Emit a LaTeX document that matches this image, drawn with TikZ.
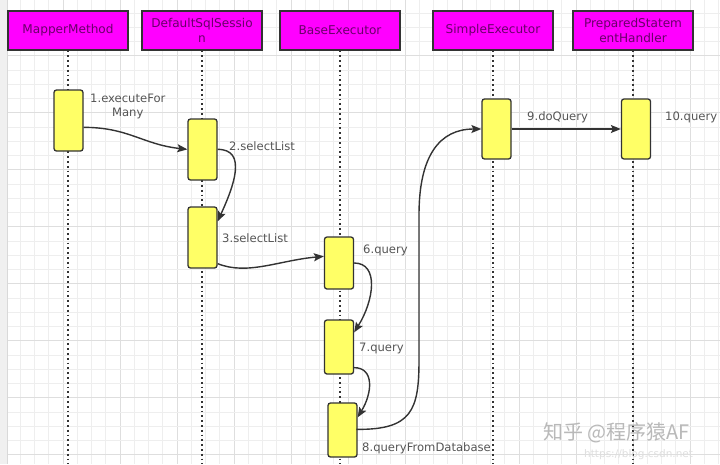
\documentclass[tikz,border=0pt]{standalone}
\usepackage{fontspec}
\setmainfont{DejaVu Sans}
\newfontfamily\cjkfont{Noto Sans CJK SC}
\usetikzlibrary{arrows.meta,calc}
\definecolor{headfill}{RGB}{255,0,255}
\definecolor{headtext}{RGB}{105,0,105}
\definecolor{actfill}{RGB}{255,255,102}
\definecolor{linegray}{RGB}{51,51,51}
\definecolor{labelgray}{RGB}{85,85,85}
\definecolor{minorgrid}{RGB}{238,238,238}
\definecolor{majorgrid}{RGB}{222,222,222}

\begin{document}
\begin{tikzpicture}[x=1pt,y=-1pt,
  head/.style={draw=linegray, fill=headfill, line width=1.3pt, minimum width=120pt,
    minimum height=39pt, inner sep=1pt, align=center, text=headtext,
    font=\fontsize{12.1}{15}\selectfont},
  act/.style={draw=linegray, fill=actfill, line width=1.3pt, rounded corners=2.5pt,
    minimum width=29pt, inner sep=0pt},
  life/.style={linegray, line width=2pt, dash pattern=on 1.8pt off 3pt},
  msg/.style={linegray, line width=1.4pt, -{Stealth[length=10pt,width=8pt,inset=2pt]}},
  lbl/.style={anchor=west, inner sep=0pt, text=labelgray, align=center,
    font=\fontsize{11.6}{14}\selectfont}]
  \clip (0,0) rectangle (720,464);
  \fill[white] (0,0) rectangle (720,464);
  % grid
  \foreach \k in {0,...,50} {
    \pgfmathtruncatemacro\m{mod(\k,4)}
    \ifnum\m=0 \draw[majorgrid, line width=1pt] ({6+14.25*\k},0) -- ++(0,464);
    \else \draw[minorgrid, line width=0.8pt] ({6+14.25*\k},0) -- ++(0,464); \fi
  }
  \foreach \k in {1,...,32} {
    \pgfmathtruncatemacro\m{mod(\k,4)}
    \ifnum\m=0 \draw[majorgrid, line width=1pt] (0,{-1.3+14.25*\k}) -- ++(720,0);
    \else \draw[minorgrid, line width=0.8pt] (0,{-1.3+14.25*\k}) -- ++(720,0); \fi
  }
  \fill[gray!12] (0,0) rectangle (7,464);
  \draw[gray!30] (7,0) -- (7,464);

  % heads
  \node[head] (mm)  at (68,30.5)  {MapperMethod};
  \node[head] (dss) at (202,30.5) {DefaultSqlSessio\\n};
  \node[head] (be)  at (340,30.5) {BaseExecutor};
  \node[head] (se)  at (493,30.5) {SimpleExecutor};
  \node[head] (psh) at (633,30.5) {PreparedStatem\\entHandler};

  % lifelines
  \coordinate (mmend)  at (68,464);
  \coordinate (dssend) at (202,464);
  \coordinate (beend)  at (340,464);
  \coordinate (seend)  at (493,464);
  \coordinate (pshend) at (633,464);
  \draw[life] (mm.south) -- (mmend);
  \draw[life] (dss.south) -- (dssend);
  \draw[life] (be.south) -- (beend);
  \draw[life] (se.south) -- (seend);
  \draw[life] (psh.south) -- (pshend);

  % activations
  \node[act, minimum height=61pt] (mmact)  at (68.5,120.5) {};
  \node[act, minimum height=61pt] (dssa)   at (202.5,149.5) {};
  \node[act, minimum height=61pt] (dssb)   at (202.5,237.5) {};
  \node[act, minimum height=52pt] (bea)    at (339,263) {};
  \node[act, minimum height=54pt] (beb)    at (339,347) {};
  \node[act, minimum height=54pt] (bec)    at (342.5,430) {};
  \node[act, minimum height=60pt] (seact)  at (496.5,129) {};
  \node[act, minimum height=60pt] (pshact) at (636,129) {};

  % messages
  \draw[msg] ($(mmact.north east)+(0,38)$) .. controls +(45,0) and +(-45,-5) .. ($(dssa.north west)+(0,31)$);
  \draw[msg] ($(dssa.north east)+(0,31)$) .. controls +(30,0) and +(16,-35) .. ($(dssb.north east)+(0,15)$);
  \draw[msg] ($(dssb.south east)+(0,-5)$) .. controls +(30,12) and +(-45,4) .. ($(bea.north west)+(0,20)$);
  \draw[msg] (bea.east) .. controls +(25,0) and +(20,-32) .. ($(beb.north east)+(0,13)$);
  \draw[msg] ($(beb.south east)+(0,-7)$) .. controls +(20,0) and +(15,-25) .. ($(bec.north east)+(0,15)$);
  \draw[msg] ($(bec.north west)+(29,27)$) .. controls (412,430) and (419,410) .. (419,360)
    -- (419,215) .. controls (419,155) and (440,129) .. (seact.west);
  \draw[msg] (seact.east) -- (pshact.west);

  % labels
  \node[lbl] (l1)  at (90,106.5)  {1.executeFor\\Many};
  \node[lbl] (l2)  at (229,146)   {2.selectList};
  \node[lbl] (l3)  at (222,238)   {3.selectList};
  \node[lbl] (l6)  at (363,250)   {6.query};
  \node[lbl] (l7)  at (359,348)   {7.query};
  \node[lbl] (l8)  at (362,448)   {8.queryFromDatabase};
  \node[lbl] (l9)  at (527,117)   {9.doQuery};
  \node[lbl] (l10) at (665,117)   {10.query};

  % watermark
  \node[anchor=west, inner sep=0pt, text=gray!55, font=\cjkfont\fontsize{20}{22}\selectfont] (wm) at (543,433) {知乎 @程序猿AF};
  \node[anchor=west, inner sep=0pt, text=gray!25, font=\fontsize{10.5}{12}\selectfont] (url) at (584,455) {https://blog.csdn.net};
\end{tikzpicture}
\end{document}
